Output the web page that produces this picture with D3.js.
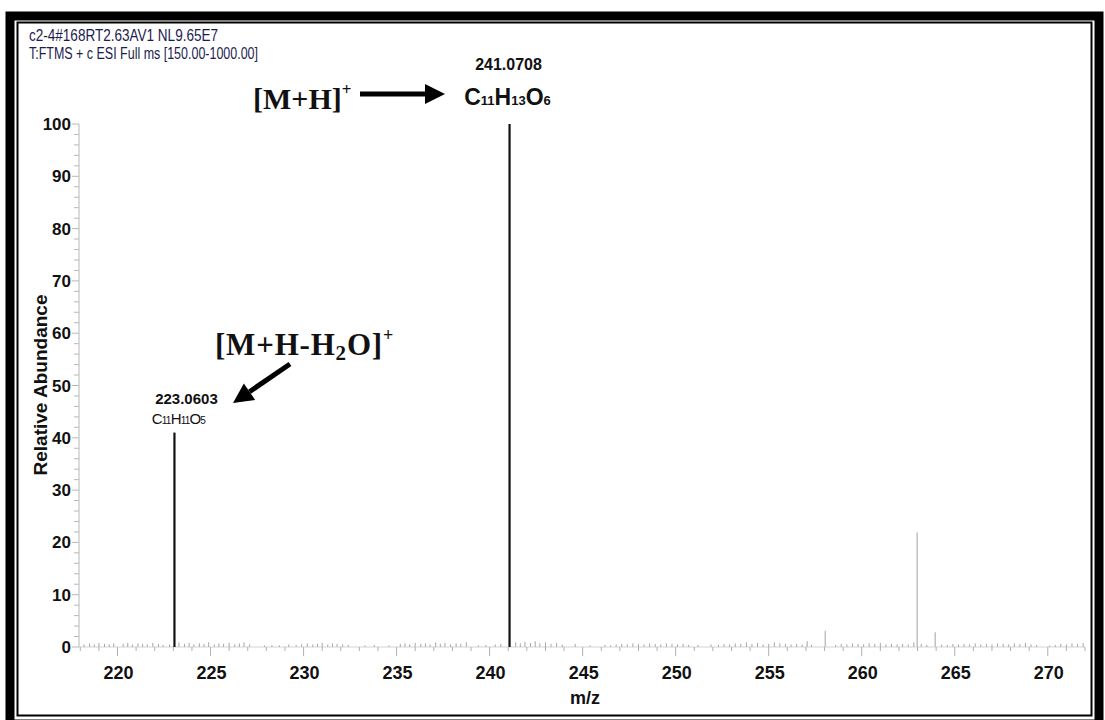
<!DOCTYPE html>
<html><head><meta charset="utf-8">
<script src="https://cdn.jsdelivr.net/npm/d3@7"></script>
<style>body{margin:0;background:#fff}svg{display:block}</style>
</head><body>
<svg id="chart" width="1105" height="720"></svg>
<script>
// ---------- data ----------
const headerLines = ["c2-4#168RT2.63AV1 NL9.65E7", "T:FTMS + c ESI Full ms [150.00-1000.00]"];
const majorPeakMz = [223.0603, 241.0708];
const majorPeakInt = [41, 100];
const majorPeakLabel = ["223.0603", "241.0708"];
const minorPeakMz = [257.07, 258.04, 262.98, 263.95];
const minorPeakInt = [1.1, 3.1, 21.9, 2.8];
const noisePeaks = [
  [218.2,0.5],[218.5,0.7],[218.75,0.5],[219.0,0.8],[219.3,0.6],[219.55,0.5],[219.8,0.7],[220.3,0.6],
  [220.55,0.8],[220.8,0.5],[221.1,0.7],[221.35,0.6],[221.6,0.5],[221.9,0.8],[222.2,0.6],[222.45,0.4],
  [222.8,0.5],[223.3,0.9],[223.6,0.6],[223.85,0.8],[224.1,0.5],[224.4,0.7],[224.65,0.6],[224.9,0.9],
  [225.2,0.5],[225.45,0.7],[225.7,0.6],[226.0,0.8],[226.3,0.5],[226.55,0.7],[226.8,0.9],[227.1,0.5],
  [227.9,0.3],[228.3,0.4],[228.7,0.3],[229.2,0.5],[229.6,0.4],[229.9,0.6],[230.2,0.7],[230.5,0.5],
  [230.75,0.6],[231.0,0.8],[231.3,0.5],[231.55,0.7],[231.8,0.6],[232.1,0.5],[232.4,0.4],[233.3,0.3],
  [233.8,0.4],[234.6,0.3],[235.2,0.6],[235.45,0.7],[235.7,0.5],[236.0,0.8],[236.3,0.6],[236.55,0.7],
  [236.8,0.5],[237.1,0.9],[237.35,0.6],[237.6,0.8],[237.9,0.5],[238.2,0.7],[238.45,0.6],[238.75,0.9],
  [239.4,0.3],[239.8,0.4],[240.3,0.5],[240.6,0.6],[241.4,0.9],[241.65,0.7],[241.9,1.0],[242.2,0.8],
  [242.45,1.1],[242.7,0.7],[243.0,0.9],[243.3,0.6],[243.6,0.8],[243.9,0.5],[244.6,0.6],[245.4,0.3],
  [246.2,0.4],[246.5,0.3],[246.8,0.5],[247.1,0.6],[247.4,0.5],[247.7,0.7],[248.0,0.6],[248.3,0.5],
  [248.6,0.7],[248.9,0.6],[249.2,0.5],[249.5,0.7],[249.8,0.6],[250.1,0.5],[250.4,0.6],[250.7,0.4],
  [251.2,0.4],[251.9,0.5],[252.3,0.4],[252.6,0.6],[252.9,0.5],[253.2,0.7],[253.5,0.6],[253.8,0.9],
  [254.1,0.6],[254.4,0.8],[254.7,0.5],[255.0,0.6],[255.3,0.9],[255.6,0.7],[255.9,0.6],[256.2,0.5],
  [256.5,0.6],[256.8,0.5],[257.3,0.4],[258.6,0.4],[258.9,0.6],[259.2,0.5],[259.5,0.7],[259.8,0.6],
  [260.1,0.5],[260.4,0.7],[260.7,0.6],[261.0,0.8],[261.3,0.5],[261.6,0.6],[261.9,0.5],[262.2,0.6],
  [262.5,0.5],[262.8,0.9],[263.2,0.6],[263.5,0.4],[264.3,0.5],[264.6,0.4],[264.9,0.6],[265.2,0.5],
  [265.5,0.6],[265.8,0.5],[266.1,0.7],[266.4,0.5],[266.7,0.6],[267.0,0.5],[267.3,0.7],[267.6,0.6],
  [267.9,0.5],[268.2,0.7],[268.5,0.6],[268.8,0.8],[269.1,0.5],[269.4,0.4],[270.1,0.3],[270.4,0.4],
  [270.7,0.6],[271.0,0.5],[271.3,0.7],[271.6,0.6],[271.9,0.8]
];
const xTicks = [220, 225, 230, 235, 240, 245, 250, 255, 260, 265, 270];
const yTicks = [0, 10, 20, 30, 40, 50, 60, 70, 80, 90, 100];

// ---------- layout ----------
const svg = d3.select("#chart");
const x = d3.scaleLinear().domain([217.93, 272.0]).range([79, 1085]);
const y = d3.scaleLinear().domain([0, 100]).range([647, 124]);

// frame
svg.append("rect").attr("x", 10).attr("y", 16).attr("width", 1089).attr("height", 708)
  .attr("fill", "none").attr("stroke", "#000").attr("stroke-width", 9);
svg.append("rect").attr("x", 17.5).attr("y", 22.5).attr("width", 1074).attr("height", 693)
  .attr("fill", "none").attr("stroke", "#000").attr("stroke-width", 2);

// header
const hdr = svg.append("g").attr("font-family", "Liberation Sans, Arial, sans-serif")
  .attr("font-size", 16).attr("fill", "#1c1c50");
hdr.append("text").attr("x", 29).attr("y", 41).attr("textLength", 189).attr("lengthAdjust", "spacingAndGlyphs").text(headerLines[0]);
hdr.append("text").attr("x", 29).attr("y", 59).attr("textLength", 229).attr("lengthAdjust", "spacingAndGlyphs").text(headerLines[1]);

// y axis
const yMinor = d3.range(0, 101, 2);
const gy = svg.append("g");
gy.append("line").attr("x1", 79).attr("x2", 79).attr("y1", y(100)).attr("y2", y(0))
  .attr("stroke", "#cfcfcf").attr("stroke-width", 1.5);
gy.selectAll(".ym").data(yMinor).join("line")
  .attr("x1", d => d % 10 === 0 ? 72 : 74).attr("x2", 79)
  .attr("y1", d => y(d)).attr("y2", d => y(d))
  .attr("stroke", "#b8b8b8").attr("stroke-width", 1);
gy.selectAll(".yl").data(yTicks).join("text")
  .attr("x", 71).attr("y", d => y(d) + 6)
  .attr("text-anchor", "end").attr("font-family", "Liberation Sans, Arial, sans-serif")
  .attr("font-weight", "bold").attr("font-size", 17).attr("fill", "#111").text(d => d);

// x axis
const xMinor = d3.range(218, 273, 1);
const gx = svg.append("g");
gx.append("line").attr("x1", x.range()[0]).attr("x2", x.range()[1]).attr("y1", 647).attr("y2", 647)
  .attr("stroke", "#d4d4d4").attr("stroke-width", 1);
gx.selectAll(".xm").data(xMinor).join("line")
  .attr("x1", d => x(d)).attr("x2", d => x(d))
  .attr("y1", 647).attr("y2", d => d % 5 === 0 ? 656 : 651)
  .attr("stroke", "#b0b0b0").attr("stroke-width", 1);
gx.selectAll(".xl").data(xTicks).join("text")
  .attr("x", d => x(d) + 1).attr("y", 679)
  .attr("text-anchor", "middle").attr("font-family", "Liberation Sans, Arial, sans-serif")
  .attr("font-weight", "bold").attr("font-size", 18).attr("fill", "#111").text(d => d);

// noise
svg.append("g").selectAll("line").data(noisePeaks).join("line")
  .attr("x1", d => x(d[0])).attr("x2", d => x(d[0]))
  .attr("y1", y(0)).attr("y2", d => y(d[1]))
  .attr("stroke", "#a8a8a8").attr("stroke-width", 1);

// minor peaks
svg.append("g").selectAll("line").data(minorPeakMz).join("line")
  .attr("x1", d => x(d)).attr("x2", d => x(d))
  .attr("y1", y(0)).attr("y2", (d, i) => y(minorPeakInt[i]))
  .attr("stroke", "#c0c0c0").attr("stroke-width", 1.5);

// major peaks
svg.append("g").selectAll("line").data(majorPeakMz).join("line")
  .attr("x1", d => x(d)).attr("x2", d => x(d))
  .attr("y1", y(0)).attr("y2", (d, i) => y(majorPeakInt[i]))
  .attr("stroke", "#111").attr("stroke-width", 2.2);

// axis titles
svg.append("text").attr("transform", "translate(47,385) rotate(-90)")
  .attr("text-anchor", "middle").attr("font-family", "Liberation Sans, Arial, sans-serif")
  .attr("font-weight", "bold").attr("font-size", 19).attr("fill", "#111").text("Relative Abundance");
svg.append("text").attr("x", 585).attr("y", 704).attr("text-anchor", "middle")
  .attr("font-family", "Liberation Sans, Arial, sans-serif")
  .attr("font-weight", "bold").attr("font-size", 18).attr("fill", "#111").text("m/z");

// peak annotations
const ann = svg.append("g").attr("font-family", "Liberation Sans, Arial, sans-serif").attr("fill", "#111");
ann.append("text").attr("x", x(majorPeakMz[1]) - 1).attr("y", 70).attr("text-anchor", "middle")
  .attr("font-weight", "bold").attr("font-size", 16).text(majorPeakLabel[1]);
const f1 = ann.append("text").attr("x", x(majorPeakMz[1]) - 2).attr("y", 105).attr("text-anchor", "middle")
  .attr("font-weight", "bold").attr("font-size", 23);
[["C",0],["11",1],["H",0],["13",1],["O",0],["6",1]].forEach(([t, s]) => {
  f1.append("tspan").attr("font-size", s ? 13 : 23).text(t);
});
ann.append("text").attr("x", x(majorPeakMz[0]) + 12).attr("y", 404).attr("text-anchor", "middle")
  .attr("font-weight", "bold").attr("font-size", 15).text(majorPeakLabel[0]);
const f2 = ann.append("text").attr("x", x(majorPeakMz[0]) + 4).attr("y", 424).attr("text-anchor", "middle")
  .attr("font-size", 15).attr("letter-spacing", -0.8);
[["C",0],["11",1],["H",0],["11",1],["O",0],["5",1]].forEach(([t, s]) => {
  f2.append("tspan").attr("font-size", s ? 10 : 15).text(t);
});

// ion labels (Times bold)
const ion = svg.append("g").attr("font-family", "Liberation Serif, Times New Roman, serif")
  .attr("font-weight", "bold").attr("fill", "#111");
const t1 = ion.append("text").attr("x", 253).attr("y", 109).attr("font-size", 30);
t1.append("tspan").text("[M+H]");
t1.append("tspan").attr("font-size", 17).attr("dy", -14).text("+");
const t2 = ion.append("text").attr("x", 215).attr("y", 355).attr("font-size", 31).attr("letter-spacing", 0.8);
t2.append("tspan").text("[M+H-H");
t2.append("tspan").attr("font-size", 21).attr("dy", 5).text("2");
t2.append("tspan").attr("dy", -5).text("O]");
t2.append("tspan").attr("font-size", 18).attr("dy", -14).text("+");

// arrows
function arrow(x1, y1, x2, y2, headLen, headW, w) {
  const ang = Math.atan2(y2 - y1, x2 - x1);
  const bx = x2 - headLen * Math.cos(ang), by = y2 - headLen * Math.sin(ang);
  svg.append("line").attr("x1", x1).attr("y1", y1).attr("x2", bx).attr("y2", by)
    .attr("stroke", "#000").attr("stroke-width", w);
  const px = -Math.sin(ang) * headW, py = Math.cos(ang) * headW;
  svg.append("path").attr("d", `M${x2},${y2}L${bx + px},${by + py}L${bx - px},${by - py}Z`).attr("fill", "#000");
}
arrow(360, 94, 445, 94, 20, 10, 5);
arrow(290, 364, 233, 403, 20, 10, 5);
</script>
</body></html>
